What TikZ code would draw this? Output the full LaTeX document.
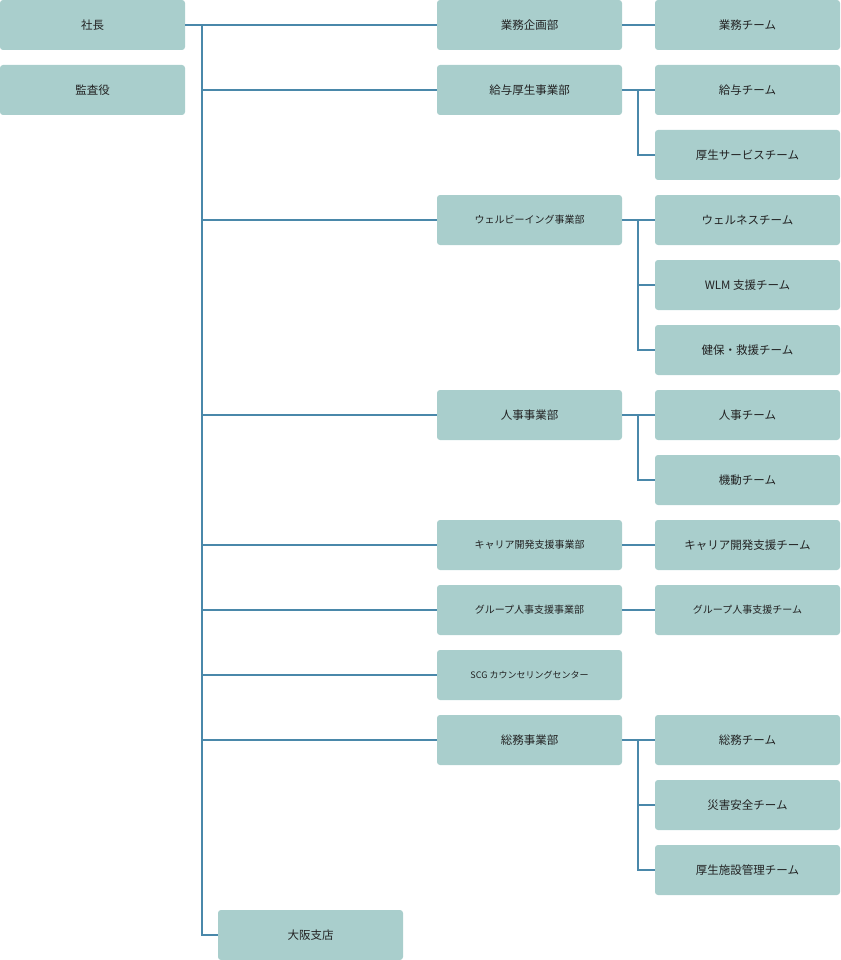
\documentclass[tikz,border=0pt]{standalone}
\usepackage{fontspec}
\setmainfont{Noto Sans CJK JP}
\begin{document}
\begin{tikzpicture}[x=1pt,y=-1pt,
  box/.style={draw=none,fill=boxc,rounded corners=3pt,minimum width=185pt,minimum height=50pt,inner sep=0pt,font=\fontsize{11.5}{13}\selectfont,text=txt,anchor=center},
  sm/.style={font=\fontsize{10}{12}\selectfont},
  xs/.style={font=\fontsize{9}{11}\selectfont},
  ln/.style={draw=linec,line width=1.3pt}]
\definecolor{boxc}{HTML}{A9CECC}
\definecolor{linec}{HTML}{4A88AA}
\definecolor{txt}{HTML}{222222}
\useasboundingbox (0,0) rectangle (840,960);
\node[box] (pres) at (92.5,25) {社長};
\node[box] (audit) at (92.5,90) {監査役};
\node[box] (d1) at (529.5,25) {業務企画部};
\node[box] (d2) at (529.5,90) {給与厚生事業部};
\node[box,sm] (d3) at (529.5,220) {ウェルビーイング事業部};
\node[box] (d4) at (529.5,415) {人事事業部};
\node[box,sm] (d5) at (529.5,545) {キャリア開発支援事業部};
\node[box,sm] (d6) at (529.5,610) {グループ人事支援事業部};
\node[box,xs] (d7) at (529.5,675) {SCG カウンセリングセンター};
\node[box] (d8) at (529.5,740) {総務事業部};
\node[box] (osaka) at (310.5,935) {大阪支店};
\node[box] (t1) at (747.5,25) {業務チーム};
\node[box] (t2) at (747.5,90) {給与チーム};
\node[box] (t3) at (747.5,155) {厚生サービスチーム};
\node[box] (t4) at (747.5,220) {ウェルネスチーム};
\node[box] (t5) at (747.5,285) {WLM 支援チーム};
\node[box] (t6) at (747.5,350) {健保・救援チーム};
\node[box] (t7) at (747.5,415) {人事チーム};
\node[box] (t8) at (747.5,480) {機動チーム};
\node[box] (t9) at (747.5,545) {キャリア開発支援チーム};
\node[box,sm] (t10) at (747.5,610) {グループ人事支援チーム};
\node[box] (t11) at (747.5,740) {総務チーム};
\node[box] (t12) at (747.5,805) {災害安全チーム};
\node[box] (t13) at (747.5,870) {厚生施設管理チーム};
\coordinate (top) at (202,25);
\coordinate (bot) at (202,935);
\draw[ln] (pres.east) -- (d1.west);
\draw[ln] (top) -- (bot) -- (osaka.west);
\foreach \d in {d2,d3,d4,d5,d6,d7,d8} \draw[ln] (\d.west) -- (\d.west -| top);
\foreach \d/\t in {d1/t1,d2/t2,d3/t4,d4/t7,d5/t9,d6/t10,d8/t11} \draw[ln] (\d.east) -- (\t.west);
\foreach \a/\b in {t2/t3,t4/t6,t7/t8,t11/t13} \draw[ln] (638,0 |- \a.west) -- (638,0 |- \b.west) -- (\b.west);
\draw[ln] (638,0 |- t5.west) -- (t5.west);
\draw[ln] (638,0 |- t12.west) -- (t12.west);
\end{tikzpicture}
\end{document}
